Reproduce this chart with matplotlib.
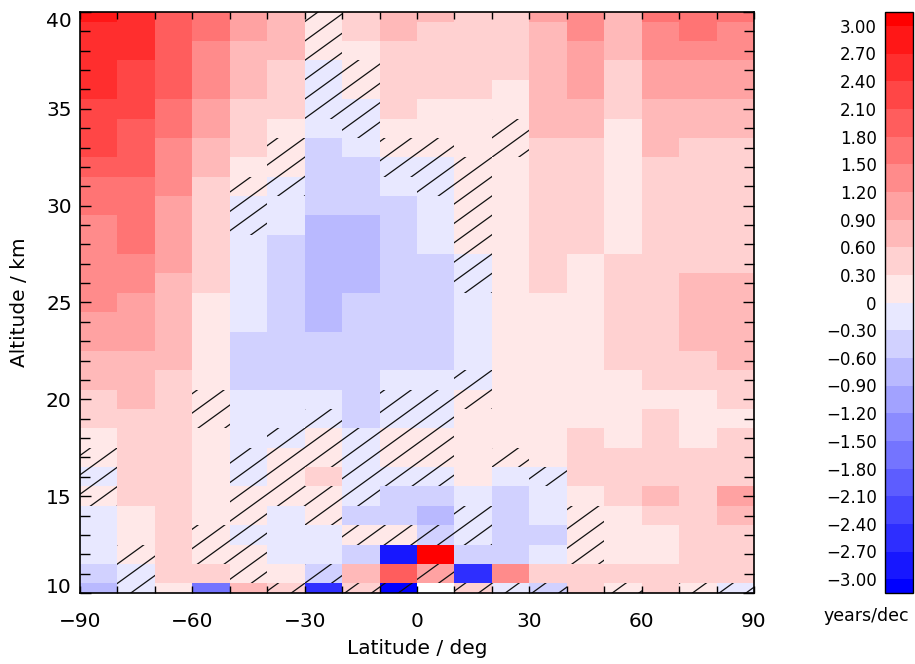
import numpy as np
import matplotlib
matplotlib.use("Agg")
import matplotlib.pyplot as plt
from matplotlib.colors import ListedColormap, BoundaryNorm
from matplotlib.collections import LineCollection
from matplotlib.path import Path
from matplotlib.ticker import MultipleLocator, FuncFormatter

# ---- grid ----
lat_centers = [-85, -75, -65, -55, -45, -35, -25, -15, -5, 5, 15, 25, 35, 45, 55, 65, 75, 85]
altitudes = list(range(10, 41))  # km, one value per km from 10 to 40

# trend (years/decade) per latitude band, listed from 10 km up to 40 km
trend_by_lat = [
    [-0.75, -0.45, -0.15, -0.15, -0.15, 0.15, -0.15, 0.15, 0.15, 0.45, 0.45, 0.75, 0.75, 1.05, 1.05, 1.35,
     1.35, 1.35, 1.35, 1.35, 1.65, 1.65, 1.95, 2.25, 2.25, 2.25, 2.55, 2.55, 2.55, 2.55, 2.85],
    [-0.15, -0.15, 0.15, 0.15, 0.15, 0.45, 0.45, 0.45, 0.45, 0.45, 0.75, 0.75, 0.75, 1.05, 1.05, 1.05,
     1.35, 1.35, 1.65, 1.65, 1.65, 1.65, 1.95, 1.95, 1.95, 2.25, 2.25, 2.25, 2.55, 2.55, 2.55],
    [0.15, 0.45, 0.45, 0.45, 0.45, 0.45, 0.45, 0.45, 0.45, 0.45, 0.45, 0.45, 0.75, 0.75, 0.75, 0.75,
     0.75, 1.05, 1.05, 1.05, 1.05, 1.35, 1.35, 1.35, 1.65, 1.65, 1.95, 1.95, 1.95, 1.95, 1.95],
    [-1.65, 0.45, 0.15, 0.15, 0.15, 0.15, 0.15, 0.15, 0.15, 0.15, 0.15, 0.15, 0.15, 0.15, 0.15, 0.15,
     0.45, 0.45, 0.45, 0.45, 0.45, 0.45, 0.75, 0.75, 1.05, 1.05, 1.35, 1.35, 1.35, 1.65, 1.65],
    [0.75, 0.15, 0.15, -0.15, 0.15, 0.15, -0.15, -0.15, -0.15, -0.15, -0.15, -0.45, -0.45, -0.45, -0.15, -0.15,
     -0.15, -0.15, -0.15, -0.15, -0.15, 0.15, 0.15, 0.45, 0.45, 0.45, 0.75, 0.75, 0.75, 1.05, 1.05],
    [0.45, 0.15, -0.15, -0.15, -0.15, 0.15, 0.15, 0.15, -0.15, -0.15, -0.15, -0.45, -0.45, -0.45, -0.45, -0.45,
     -0.45, -0.45, -0.45, -0.15, -0.15, -0.15, 0.15, 0.15, 0.15, 0.45, 0.45, 0.45, 0.75, 0.75, 0.75],
    [-2.55, -0.45, -0.15, -0.15, 0.15, 0.15, 0.45, 0.15, 0.15, -0.15, -0.15, -0.45, -0.45, -0.45, -0.75, -0.75,
     -0.75, -0.75, -0.75, -0.75, -0.45, -0.45, -0.45, -0.45, -0.15, -0.15, -0.15, -0.15, 0.15, 0.15, 0.15],
    [0.45, 0.75, -0.45, 0.15, -0.45, -0.15, -0.15, -0.15, -0.15, -0.45, -0.45, -0.45, -0.45, -0.45, -0.45, -0.45,
     -0.75, -0.75, -0.75, -0.75, -0.45, -0.45, -0.45, -0.15, -0.15, -0.15, 0.15, 0.15, 0.15, 0.45, 0.45],
    [-3.20, 1.95, -2.85, 0.15, -0.45, -0.45, -0.15, 0.15, 0.15, -0.15, -0.15, -0.15, -0.45, -0.45, -0.45, -0.45,
     -0.45, -0.45, -0.45, -0.45, -0.45, -0.15, -0.15, 0.15, 0.15, 0.45, 0.45, 0.45, 0.45, 0.75, 0.75],
    [np.nan, 1.05, 3.20, -0.45, -0.75, -0.45, -0.15, 0.15, 0.15, -0.15, -0.15, -0.15, -0.45, -0.45, -0.45, -0.45,
     -0.45, -0.45, -0.15, -0.15, -0.15, -0.15, -0.15, 0.15, 0.15, 0.15, 0.45, 0.45, 0.45, 0.45, 0.75],
    [0.45, -2.55, -0.45, -0.15, -0.15, -0.15, 0.15, 0.15, 0.15, 0.15, 0.15, -0.15, -0.15, -0.15, -0.15, -0.15,
     -0.15, -0.15, 0.15, 0.15, 0.15, 0.15, 0.15, 0.15, 0.15, 0.15, 0.45, 0.45, 0.45, 0.45, 0.45],
    [-0.15, 1.35, -0.45, -0.45, -0.45, -0.45, -0.15, 0.15, 0.15, 0.15, 0.15, 0.15, 0.15, 0.15, 0.15, 0.15,
     0.15, 0.15, 0.15, 0.15, 0.15, 0.15, 0.15, 0.15, 0.15, 0.15, 0.15, 0.45, 0.45, 0.45, 0.45],
    [-0.45, 0.45, -0.15, -0.45, -0.15, -0.15, -0.15, 0.15, 0.15, 0.15, 0.15, 0.15, 0.15, 0.15, 0.15, 0.15,
     0.45, 0.45, 0.45, 0.45, 0.45, 0.45, 0.45, 0.45, 0.75, 0.75, 0.75, 0.75, 0.75, 0.75, 1.05],
    [0.45, 0.45, 0.15, 0.15, 0.15, 0.15, 0.45, 0.45, 0.45, 0.15, 0.15, 0.15, 0.15, 0.15, 0.15, 0.15,
     0.15, 0.15, 0.45, 0.45, 0.45, 0.45, 0.45, 0.45, 0.75, 0.75, 1.05, 1.05, 1.05, 1.35, 1.35],
    [0.15, 0.45, 0.15, 0.15, 0.15, 0.45, 0.45, 0.45, 0.15, 0.15, 0.15, 0.15, 0.45, 0.45, 0.45, 0.45,
     0.45, 0.45, 0.15, 0.15, 0.15, 0.15, 0.15, 0.15, 0.15, 0.45, 0.45, 0.45, 0.75, 0.75, 0.75],
    [0.45, 0.45, 0.15, 0.15, 0.45, 0.75, 0.45, 0.45, 0.45, 0.45, 0.15, 0.45, 0.45, 0.45, 0.45, 0.45,
     0.45, 0.45, 0.45, 0.45, 0.45, 0.45, 0.45, 0.75, 0.75, 0.75, 1.05, 1.05, 1.35, 1.35, 1.65],
    [0.15, 0.45, 0.45, 0.45, 0.45, 0.45, 0.45, 0.45, 0.15, 0.15, 0.15, 0.45, 0.45, 0.75, 0.75, 0.75,
     0.75, 0.45, 0.45, 0.45, 0.45, 0.45, 0.45, 0.45, 0.75, 0.75, 1.05, 1.05, 1.35, 1.65, 1.65],
    [-0.15, 0.45, 0.45, 0.45, 0.75, 1.05, 0.45, 0.45, 0.45, 0.15, 0.45, 0.45, 0.75, 0.75, 0.75, 0.75,
     0.75, 0.45, 0.45, 0.45, 0.45, 0.45, 0.45, 0.45, 0.75, 0.75, 1.05, 1.05, 1.35, 1.35, 1.65],
]

# cells where the trend is not significant (hatched), altitude lists per latitude band
not_significant = {
    -85: [15, 16, 17],
    -75: [10, 11, 12],
    -55: [12, 13, 19, 20],
    -45: [11, 12, 13, 14, 15, 16, 17, 29, 30, 31],
    -35: [10, 15, 16, 17, 18, 31, 32, 33],
    -25: [11, 14, 15, 17, 18, 19, 35, 36, 37, 38, 39, 40],
    -15: [10, 13, 15, 16, 17, 18, 34, 35, 36, 37],
    -5: [10, 13, 16, 17, 18, 19, 20, 32, 33],
    5: [11, 13, 16, 17, 18, 19, 20, 31, 32, 33],
    15: [10, 13, 14, 20, 21, 26, 27, 28, 29, 30, 31, 32],
    25: [10, 17, 33, 34],
    35: [10, 16],
    45: [12, 13, 14],
    55: [10],
    75: [10],
    85: [10],
}

levels = np.round(np.linspace(-3.0, 3.0, 21), 2)

# ---- style ----
plt.rcParams["font.family"] = "DejaVu Sans"
plt.rcParams["axes.linewidth"] = 1.2

fig = plt.figure(figsize=(9.15, 6.64), dpi=100)
W, H = 915.0, 664.0
ax = fig.add_axes([80 / W, 1 - 593 / H, 674 / W, 581 / H])
cax = fig.add_axes([885 / W, 1 - 593 / H, 28 / W, 581 / H])

# 10 shades per sign, white -> pure red / blue, with saturated ends beyond +-3
shades = [1 - k / 11 for k in range(1, 11)]
blues = [(s, s, 1.0) for s in shades[::-1]]
reds = [(1.0, s, s) for s in shades]
cmap = ListedColormap(blues + reds)
cmap.set_over((1.0, 0.0, 0.0))
cmap.set_under((0.0, 0.0, 1.0))
cmap.set_bad((1.0, 1.0, 1.0, 0.0))
norm = BoundaryNorm(levels, cmap.N)

lat_edges = np.arange(-90, 91, 10)
alt_edges = np.arange(9.5, 41.0, 1.0)
grid = np.ma.masked_invalid(np.array(trend_by_lat, dtype=float).T)
mesh = ax.pcolormesh(lat_edges, alt_edges, grid, cmap=cmap, norm=norm, shading="flat")

# hatching over non-significant cells: a family of slanted lines clipped to those cells
cell_paths = []
for lat, alts in not_significant.items():
    for alt in alts:
        cell_paths.append(Path([(lat - 5, alt - 0.5), (lat + 5, alt - 0.5), (lat + 5, alt + 0.5),
                                (lat - 5, alt + 0.5), (lat - 5, alt - 0.5)],
                               [Path.MOVETO, Path.LINETO, Path.LINETO, Path.LINETO, Path.CLOSEPOLY]))
clip = Path.make_compound_path(*cell_paths)
slope = 0.14  # km per degree
segs = [[(-90, slope * -90 + 0.7 + k), (90, slope * 90 + 0.7 + k)] for k in range(-20, 60)]
hatch = LineCollection(segs, colors="#111111", linewidths=0.9)
ax.add_collection(hatch, autolim=False)
hatch.set_clip_path(clip, ax.transData)

ax.set_xlim(-90, 90)
ax.set_ylim(10, 40)
ax.xaxis.set_major_locator(MultipleLocator(30))
ax.xaxis.set_minor_locator(MultipleLocator(10))
ax.yaxis.set_major_locator(MultipleLocator(5))
ax.yaxis.set_minor_locator(MultipleLocator(1))
ax.tick_params(axis="both", which="both", direction="in", top=True, right=True, width=1.0)
ax.tick_params(axis="x", which="both", length=5, pad=14, labelsize=14.5)
ax.tick_params(axis="y", which="major", length=8, pad=6, labelsize=14.5)
ax.tick_params(axis="y", which="minor", length=7)
fig.canvas.draw()
for lab in ax.get_yticklabels():
    if lab.get_text() == "40":
        lab.set_va("top")
    elif lab.get_text() == "10":
        lab.set_va("baseline")

ax.set_xlabel("Latitude / deg", fontsize=14.5)
ax.set_ylabel("Altitude / km", fontsize=14.5)
ax.xaxis.set_label_coords(0.5, -0.079)
ax.yaxis.set_label_coords(-0.075, 0.5)

cb = fig.colorbar(mesh, cax=cax, extend="both", extendrect=True, extendfrac=0.025,
                  ticks=levels, drawedges=False)
cb.outline.set_linewidth(1.0)
cax.yaxis.set_ticks_position("left")
cax.yaxis.set_label_position("left")
cax.tick_params(length=0, pad=6, labelsize=12)
cb.ax.yaxis.set_major_formatter(FuncFormatter(lambda v, p: "0" if abs(v) < 1e-9 else f"{v:.2f}".replace("-", "\u2212")))
fig.text(866 / W, 1 - 616 / H, "years/dec", ha="center", va="center", fontsize=12.5)

fig.savefig("out.png", dpi=100)
